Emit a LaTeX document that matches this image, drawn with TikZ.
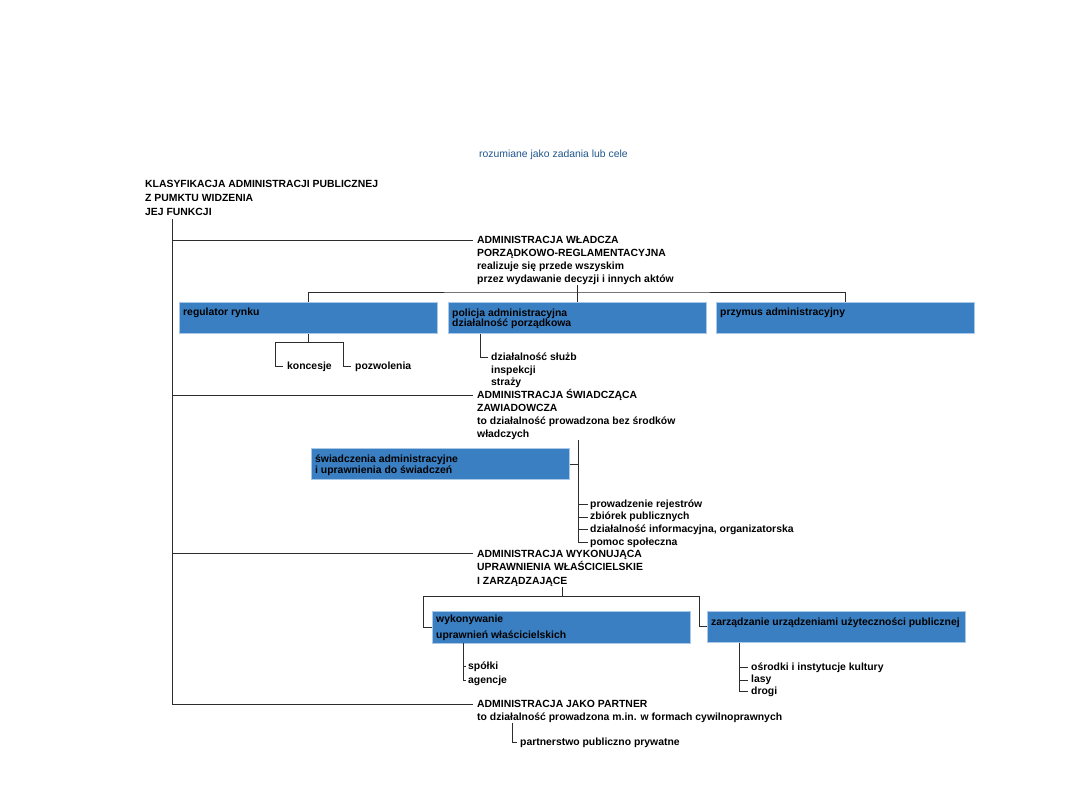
\documentclass[tikz,border=0pt]{standalone}
\usepackage{fontspec}
\setmainfont{Liberation Sans}
\definecolor{boxblue}{RGB}{58,127,194}
\definecolor{boxedge}{RGB}{170,200,232}
\definecolor{lncol}{RGB}{45,45,45}
\definecolor{capblue}{RGB}{32,86,140}
\newcommand{\stx}{\rule{0pt}{10pt}}
\begin{document}
\begin{tikzpicture}[x=1pt,y=-1pt,
  ln/.style={draw=lncol,line width=0.8pt},
  blk/.style={anchor=north west,inner sep=0pt,align=left,font=\fontsize{10.4}{13}\selectfont\bfseries},
  item/.style={anchor=west,inner sep=0pt,font=\fontsize{10.4}{13}\selectfont\bfseries,text height=7.5pt,text depth=2pt},
  bbox/.style={anchor=north west,inner sep=0pt,fill=boxblue,draw=boxedge,line width=0.6pt,minimum width=258pt,minimum height=31.5pt},
]
\useasboundingbox[fill=white] (0,0) rectangle (1080,810);

% caption
\node[anchor=base west,inner sep=0pt,font=\fontsize{10.4}{13}\selectfont,text=capblue] (cap) at (479,158) {rozumiane jako zadania lub cele};

% text blocks
\node[blk,font=\fontsize{10.4}{14}\selectfont\bfseries] (tt) at (145,177) {\stx KLASYFIKACJA ADMINISTRACJI PUBLICZNEJ\\Z PUMKTU WIDZENIA\\JEJ FUNKCJI};
\node[blk] (wl) at (477,233.6) {\stx ADMINISTRACJA WŁADCZA\\PORZĄDKOWO-REGLAMENTACYJNA\\realizuje się przede wszyskim\\przez wydawanie decyzji i innych aktów};
\node[blk] (sw) at (477,388.6) {\stx ADMINISTRACJA ŚWIADCZĄCA\\ZAWIADOWCZA\\to działalność prowadzona bez środków\\władczych};
\node[blk,font=\fontsize{10.4}{13.5}\selectfont\bfseries] (wy) at (477,547) {\stx ADMINISTRACJA WYKONUJĄCA\\UPRAWNIENIA WŁAŚCICIELSKIE\\I ZARZĄDZAJĄCE};
\node[blk,font=\fontsize{10.4}{12.5}\selectfont\bfseries] (pa) at (477,697.5) {\stx ADMINISTRACJA JAKO PARTNER\\to działalność prowadzona m.in. w formach cywilnoprawnych};

% boxes
\node[bbox] (reg) at (179,302) {};
\node[blk] (regT) at (183,305.5) {\stx regulator rynku};
\node[bbox] (pol) at (448,302) {};
\node[blk,font=\fontsize{10.4}{10.6}\selectfont\bfseries] (polT) at (452,306.2) {\stx policja administracyjna\\działalność porządkowa};
\node[bbox] (prz) at (716,302) {};
\node[blk] (przT) at (720,305.5) {\stx przymus administracyjny};
\node[bbox] (swb) at (311,448) {};
\node[blk,font=\fontsize{10.4}{11}\selectfont\bfseries] (swbT) at (315,452.5) {\stx świadczenia administracyjne\\i uprawnienia do świadczeń};
\node[bbox] (wyk) at (432,611) {};
\node[blk,font=\fontsize{10.4}{16}\selectfont\bfseries] (wykT) at (436,611.8) {\stx wykonywanie\\uprawnień właścicielskich};
\node[bbox] (zar) at (707,610.5) {};
\node[blk] (zarT) at (711,615.2) {\stx zarządzanie urządzeniami użyteczności publicznej};

% items
\node[item] (konc) at (287,366.5) {koncesje};
\node[item] (poz) at (355,366.5) {pozwolenia};
\node[blk,font=\fontsize{10.4}{12.5}\selectfont\bfseries] (dz) at (491,350.5) {\stx działalność służb\\inspekcji\\straży};
\node[item] (prow) at (590,504.5) {prowadzenie rejestrów};
\node[item] (zbi) at (590,517) {zbiórek publicznych};
\node[item] (dzi) at (590,529.5) {działalność informacyjna, organizatorska};
\node[item] (pom) at (590,542.5) {pomoc społeczna};
\node[item] (spo) at (468,666.5) {spółki};
\node[item] (age) at (468,680.5) {agencje};
\node[item] (osr) at (751,667.5) {ośrodki i instytucje kultury};
\node[item] (las) at (751,680) {lasy};
\node[item] (dro) at (751,691.5) {drogi};
\node[item] (pp) at (520,742.5) {partnerstwo publiczno prywatne};

% main spine
\coordinate (sp) at (172,219);
\coordinate (wlP) at ([xshift=-4pt,yshift=-6.4pt]wl.north west);
\coordinate (swP) at ([xshift=-4pt,yshift=-6.4pt]sw.north west);
\coordinate (wyP) at ([xshift=-4pt,yshift=-6.5pt]wy.north west);
\coordinate (paP) at ([xshift=-4pt,yshift=-6.5pt]pa.north west);
\draw[ln] (sp) |- (paP);
\draw[ln] (sp |- wlP) -- (wlP);
\draw[ln] (sp |- swP) -- (swP);
\draw[ln] (sp |- wyP) -- (wyP);

% władcza
\coordinate (j1) at (577,292);
\draw[ln] (reg.north) |- (j1) -| (prz.north);
\draw[ln] (j1 |- wl.south) -- (j1 |- pol.north);
\coordinate (kb) at (275,342);
\coordinate (pb) at (343,342);
\draw[ln] (reg.south) -- (reg.south |- kb);
\draw[ln] ([xshift=-4pt]konc.west) -| (kb) -- (pb) |- ([xshift=-4pt]poz.west);
\draw[ln] ([xshift=32pt]pol.south west) |- ([xshift=-3pt,yshift=-6.5pt]dz.north west);

% świadcząca
\coordinate (s4) at ([xshift=101pt]sw.south west);
\draw[ln] (s4) |- ([xshift=-2pt]pom.west);
\draw[ln] (swb.east) -- (swb.east -| s4);
\draw[ln] (s4 |- prow.west) -- ([xshift=-2pt]prow.west);
\draw[ln] (s4 |- zbi.west) -- ([xshift=-2pt]zbi.west);
\draw[ln] (s4 |- dzi.west) -- ([xshift=-2pt]dzi.west);

% wykonująca
\coordinate (j5) at (562,596);
\coordinate (l5) at (423,596);
\coordinate (r5) at (699,596);
\draw[ln] (j5 |- wy.south) -- (j5);
\draw[ln] (wyk.west) -| (l5) -- (r5) |- (zar.west);
\coordinate (s6) at ([xshift=31pt]wyk.south west);
\draw[ln] (s6) |- ([xshift=-2pt]age.west);
\draw[ln] (s6 |- spo.west) -- ([xshift=-2pt]spo.west);
\coordinate (s7) at ([xshift=32pt]zar.south west);
\draw[ln] (s7) |- ([xshift=-3pt]dro.west);
\draw[ln] (s7 |- osr.west) -- ([xshift=-3pt]osr.west);
\draw[ln] (s7 |- las.west) -- ([xshift=-3pt]las.west);

% partner
\draw[ln] ([xshift=35pt]pa.south west) |- ([xshift=-3pt]pp.west);
\end{tikzpicture}
\end{document}
